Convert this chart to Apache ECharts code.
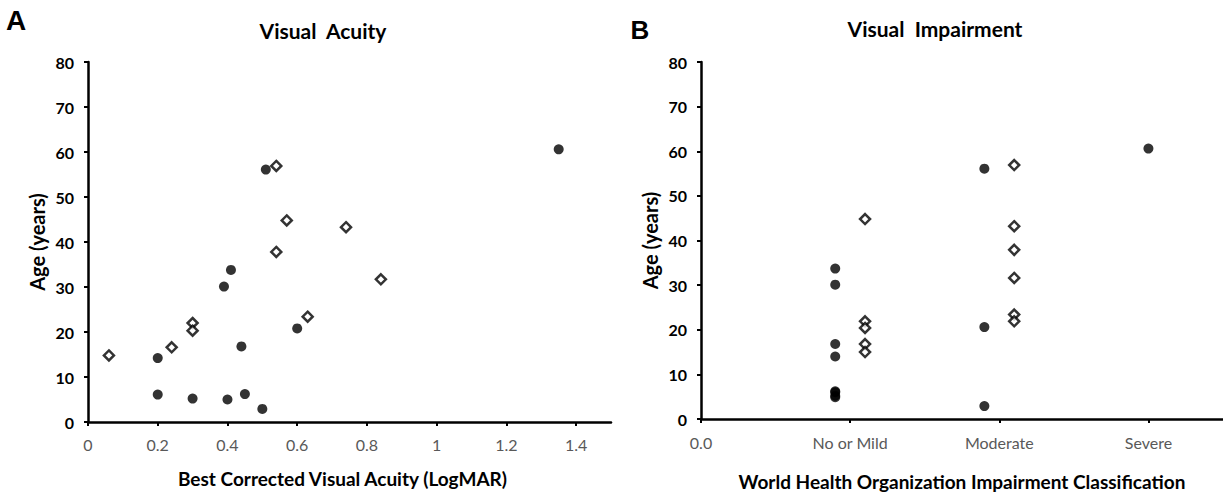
<!DOCTYPE html>
<html>
<head>
<meta charset="utf-8">
<title>Visual Acuity / Visual Impairment</title>
<script src="https://cdn.jsdelivr.net/npm/echarts@6/dist/echarts.min.js"></script>
<style>
  html, body { margin: 0; padding: 0; background: #fff; }
  #main { width: 1223px; height: 496px; }
</style>
</head>
<body>
<div id="main"></div>
<script>
// panel A - best corrected visual acuity (LogMAR) vs age
var acuityCircleX = [0.2, 0.2, 0.3, 0.4, 0.45, 0.5, 0.44, 0.39, 0.41, 0.6, 0.51, 1.35];
var acuityCircleY = [6.1, 14.2, 5.2, 5.0, 6.2, 2.9, 16.8, 30.1, 33.8, 20.8, 56.1, 60.6];
var acuityDiamondX = [0.06, 0.24, 0.3, 0.3, 0.54, 0.63, 0.84, 0.54, 0.57, 0.74];
var acuityDiamondY = [14.8, 16.6, 22.0, 20.3, 37.8, 23.4, 31.7, 56.9, 44.8, 43.3];
var acuityTicks = [0, 0.2, 0.4, 0.6, 0.8, 1, 1.2, 1.4];

// panel B - WHO classification vs age (points offset either side of the class)
var impairTickLabels = ['0.0', 'No or Mild', 'Moderate', 'Severe'];
var impairTicks = [0, 1, 2, 3];
var impairCircleX = [0.9, 0.9, 0.9, 0.9, 0.9, 0.9, 0.9, 0.9, 1.9, 1.9, 1.9, 3.0];
var impairCircleY = [33.7, 30.1, 16.8, 14.0, 6.2, 6.0, 5.2, 4.9, 56.1, 20.6, 2.9, 60.6];
var impairDiamondX = [1.1, 1.1, 1.1, 1.1, 1.1, 2.1, 2.1, 2.1, 2.1, 2.1, 2.1];
var impairDiamondY = [44.8, 21.9, 20.4, 16.8, 15.0, 56.9, 43.2, 37.9, 31.6, 23.4, 21.9];

var ageTicks = [0, 10, 20, 30, 40, 50, 60, 70, 80];

var FONT = 'Lato, "Open Sans", sans-serif';

function pairs(xs, ys) {
  var res = [];
  for (var i = 0; i < xs.length; i++) {
    res.push([xs[i], ys[i]]);
  }
  return res;
}

var yAxisBase = function (gridIndex) {
  return {
    type: 'value',
    gridIndex: gridIndex,
    min: ageTicks[0],
    max: ageTicks[ageTicks.length - 1],
    interval: 10,
    name: 'Age (years)',
    nameLocation: 'middle',
    nameGap: 41,
    nameTextStyle: { fontFamily: FONT, fontWeight: 'bold', fontSize: 20, color: '#000' },
    axisLine: { show: true, lineStyle: { color: '#000', width: 2.5 } },
    axisTick: { show: true, length: 4, lineStyle: { color: '#000', width: 2 } },
    axisLabel: { fontFamily: FONT, fontWeight: 'bold', fontSize: 16, color: '#000', margin: 14 },
    splitLine: { show: false }
  };
};

var circleStyle = {
  symbol: 'circle',
  symbolSize: 10,
  itemStyle: { color: '#000' }
};
var diamondStyle = {
  symbol: 'diamond',
  symbolSize: 10,
  itemStyle: { color: '#fff', borderColor: '#000', borderWidth: 2.5 }
};

var option = {
  backgroundColor: '#fff',
  animation: false,
  graphic: [
    { type: 'text', x: 16, y: 20, style: { text: 'A', font: 'bold 28px "Liberation Sans", Arial, sans-serif', fill: '#000', align: 'center', verticalAlign: 'middle' } },
    { type: 'text', x: 640, y: 30, style: { text: 'B', font: 'bold 26px "Liberation Sans", Arial, sans-serif', fill: '#000', align: 'center', verticalAlign: 'middle' } },
    { type: 'text', x: 323, y: 30, style: { text: 'Visual  Acuity', font: 'bold 21px ' + FONT, fill: '#000', align: 'center', verticalAlign: 'middle' } },
    { type: 'text', x: 935, y: 28, style: { text: 'Visual  Impairment', font: 'bold 21px ' + FONT, fill: '#000', align: 'center', verticalAlign: 'middle' } }
  ],
  grid: [
    { left: 88, top: 62, width: 523, height: 360 },
    { left: 701, top: 62, width: 522, height: 360 }
  ],
  xAxis: [
    {
      type: 'value',
      gridIndex: 0,
      min: 0,
      max: 1.5,
      interval: 0.2,
      name: 'Best Corrected Visual Acuity (LogMAR)',
      nameLocation: 'middle',
      nameGap: 47,
      nameTextStyle: { fontFamily: FONT, fontWeight: 'bold', fontSize: 19, color: '#000', padding: [0, 14, 0, 0] },
      axisLine: { show: true, onZero: false, lineStyle: { color: '#000', width: 2.5 } },
      axisTick: { show: true, length: 4, customValues: acuityTicks, lineStyle: { color: '#000', width: 2 } },
      axisLabel: { fontFamily: FONT, fontSize: 16, color: '#595959', margin: 14, customValues: acuityTicks },
      splitLine: { show: false }
    },
    {
      type: 'value',
      gridIndex: 1,
      min: 0,
      max: 3.5,
      interval: 1,
      name: 'World Health Organization Impairment Classification',
      nameLocation: 'middle',
      nameGap: 53,
      nameTextStyle: { fontFamily: FONT, fontWeight: 'bold', fontSize: 19, color: '#000' },
      axisLine: { show: true, onZero: false, lineStyle: { color: '#000', width: 2.5 } },
      axisTick: { show: true, length: 4, customValues: impairTicks, lineStyle: { color: '#000', width: 2 } },
      axisLabel: {
        fontFamily: FONT, fontSize: 16, color: '#595959', margin: 15,
        customValues: impairTicks,
        formatter: function (v) { return impairTickLabels[v]; }
      },
      splitLine: { show: false }
    }
  ],
  yAxis: [yAxisBase(0), yAxisBase(1)],
  series: [
    Object.assign({ type: 'scatter', xAxisIndex: 0, yAxisIndex: 0, data: pairs(acuityCircleX, acuityCircleY) }, circleStyle),
    Object.assign({ type: 'scatter', xAxisIndex: 0, yAxisIndex: 0, data: pairs(acuityDiamondX, acuityDiamondY) }, diamondStyle),
    Object.assign({ type: 'scatter', xAxisIndex: 1, yAxisIndex: 1, data: pairs(impairCircleX, impairCircleY) }, circleStyle),
    Object.assign({ type: 'scatter', xAxisIndex: 1, yAxisIndex: 1, data: pairs(impairDiamondX, impairDiamondY) }, diamondStyle)
  ]
};

var myChart = echarts.init(document.getElementById('main'), null, { renderer: 'svg' });
myChart.setOption(option);
</script>
</body>
</html>
